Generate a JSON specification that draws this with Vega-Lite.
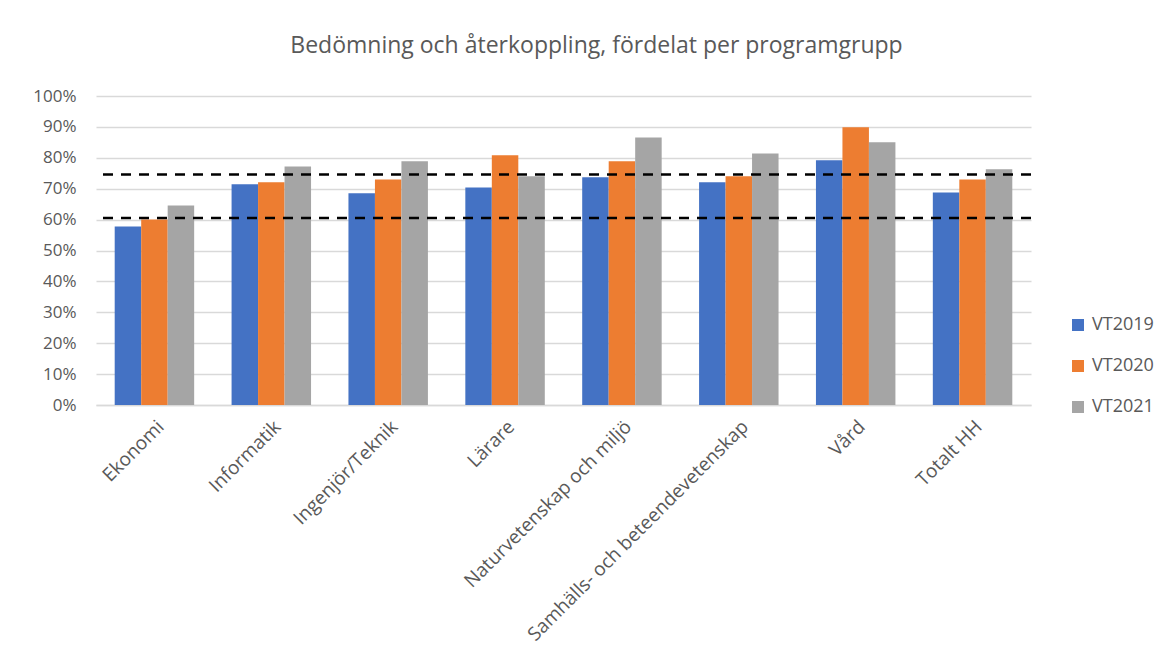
{
  "$schema": "https://vega.github.io/schema/vega-lite/v6.json",
  "width": 935,
  "height": 309,
  "autosize": {"type": "none"},
  "padding": {"left": 96, "top": 96, "right": 139, "bottom": 252},
  "background": "white",
  "title": {
    "text": "Bedömning och återkoppling, fördelat per programgrupp",
    "font": "Open Sans",
    "fontSize": 23,
    "fontWeight": "normal",
    "color": "#595959",
    "anchor": "middle",
    "dx": 33,
    "offset": 29
  },
  "datasets": {
    "bars": [
      {"program": "Ekonomi", "year": "VT2019", "value": 0.578},
      {"program": "Ekonomi", "year": "VT2020", "value": 0.600},
      {"program": "Ekonomi", "year": "VT2021", "value": 0.646},
      {"program": "Informatik", "year": "VT2019", "value": 0.714},
      {"program": "Informatik", "year": "VT2020", "value": 0.721},
      {"program": "Informatik", "year": "VT2021", "value": 0.772},
      {"program": "Ingenjör/Teknik", "year": "VT2019", "value": 0.685},
      {"program": "Ingenjör/Teknik", "year": "VT2020", "value": 0.730},
      {"program": "Ingenjör/Teknik", "year": "VT2021", "value": 0.789},
      {"program": "Lärare", "year": "VT2019", "value": 0.704},
      {"program": "Lärare", "year": "VT2020", "value": 0.808},
      {"program": "Lärare", "year": "VT2021", "value": 0.740},
      {"program": "Naturvetenskap och miljö", "year": "VT2019", "value": 0.737},
      {"program": "Naturvetenskap och miljö", "year": "VT2020", "value": 0.789},
      {"program": "Naturvetenskap och miljö", "year": "VT2021", "value": 0.866},
      {"program": "Samhälls- och beteendevetenskap", "year": "VT2019", "value": 0.721},
      {"program": "Samhälls- och beteendevetenskap", "year": "VT2020", "value": 0.740},
      {"program": "Samhälls- och beteendevetenskap", "year": "VT2021", "value": 0.814},
      {"program": "Vård", "year": "VT2019", "value": 0.792},
      {"program": "Vård", "year": "VT2020", "value": 0.899},
      {"program": "Vård", "year": "VT2021", "value": 0.850},
      {"program": "Totalt HH", "year": "VT2019", "value": 0.688},
      {"program": "Totalt HH", "year": "VT2020", "value": 0.730},
      {"program": "Totalt HH", "year": "VT2021", "value": 0.763}
    ],
    "refs": [{"value": 0.746}, {"value": 0.605}]
  },
  "encoding": {
    "y": {
      "field": "value",
      "type": "quantitative",
      "scale": {"domain": [0, 1], "nice": false},
      "axis": {
        "title": null,
        "format": ".0%",
        "values": [0, 0.1, 0.2, 0.3, 0.4, 0.5, 0.6, 0.7, 0.8, 0.9, 1],
        "tickCount": 30,
        "labelOverlap": false,
        "labelPadding": 20,
        "labelFontSize": 17,
        "labelFont": "Open Sans",
        "labelColor": "#595959",
        "ticks": false,
        "domain": false,
        "grid": true,
        "gridColor": "#D9D9D9",
        "gridWidth": 1.5
      }
    }
  },
  "layer": [
    {
      "data": {"name": "bars"},
      "mark": {"type": "bar"},
      "encoding": {
        "x": {
          "field": "program",
          "type": "nominal",
          "sort": null,
          "scale": {"paddingInner": 0.32, "paddingOuter": 0.16},
          "axis": {
            "title": null,
            "labelAngle": -45,
            "labelPadding": 12,
            "labelFontSize": 19,
            "labelFont": "Open Sans",
            "labelColor": "#595959",
            "labelLimit": 400,
            "labelOverlap": false,
            "ticks": false,
            "grid": false,
            "domainColor": "#D9D9D9",
            "domainWidth": 1.5
          }
        },
        "xOffset": {"field": "year", "type": "nominal", "scale": {"paddingInner": 0}},
        "color": {
          "field": "year",
          "type": "nominal",
          "scale": {"range": ["#4472C4", "#ED7D31", "#A5A5A5"]},
          "legend": {
            "title": null,
            "orient": "none",
            "legendX": 973,
            "legendY": 220,
            "symbolType": "square",
            "symbolSize": 144,
            "symbolStrokeWidth": 0,
            "symbolOpacity": 1,
            "labelFontSize": 18,
            "labelFont": "Open Sans",
            "labelColor": "#595959",
            "labelOffset": 5,
            "rowPadding": 23
          }
        }
      }
    },
    {
      "data": {"name": "refs"},
      "mark": {"type": "rule", "strokeDash": [10, 8], "strokeWidth": 2.5, "color": "black"},
      "encoding": {}
    }
  ],
  "config": {
    "view": {"stroke": null}
  }
}
